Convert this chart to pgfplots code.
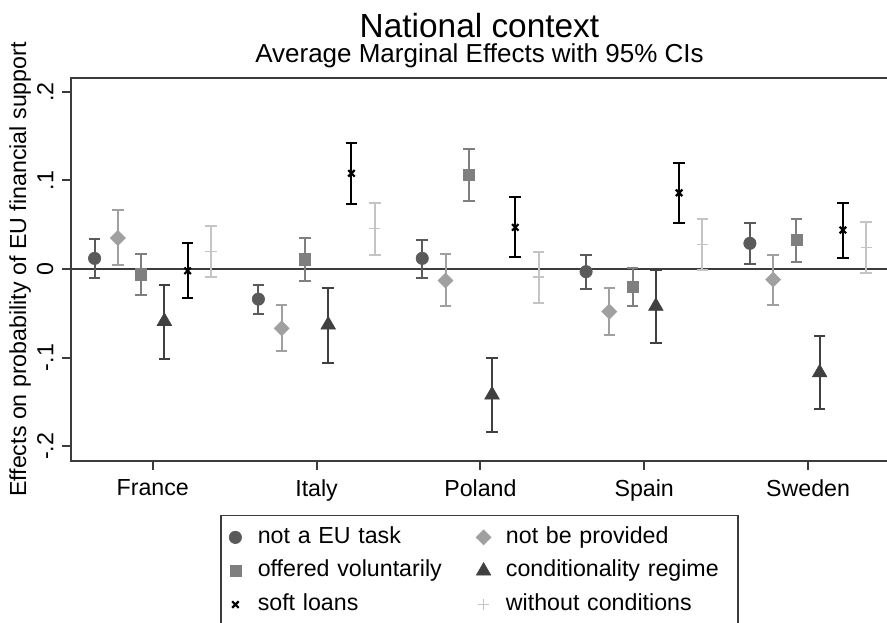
\documentclass[border=0pt]{standalone}
\usepackage{fontspec}
\setmainfont{Liberation Sans}
\usepackage{pgfplots}
\usepackage{pgfplotstable}
\pgfplotsset{compat=1.18}

\definecolor{cTask}{HTML}{5A5A5A}
\definecolor{cProv}{HTML}{A0A0A0}
\definecolor{cVol}{HTML}{7F7F7F}
\definecolor{cCond}{HTML}{404040}
\definecolor{cLoan}{HTML}{000000}
\definecolor{cWith}{HTML}{C4C4C4}
\definecolor{frame}{HTML}{3C3C3C}

% c = country index (0 France ... 4 Sweden), y = AME, lo/hi = 95% CI
\pgfplotstableread{
c y lo hi
0 0.012 -0.010 0.034
1 -0.034 -0.051 -0.018
2 0.012 -0.010 0.033
3 -0.003 -0.023 0.016
4 0.029 0.006 0.052
}\notask
\pgfplotstableread{
c y lo hi
0 0.035 0.005 0.067
1 -0.067 -0.093 -0.041
2 -0.013 -0.042 0.017
3 -0.048 -0.075 -0.021
4 -0.012 -0.041 0.016
}\notprov
\pgfplotstableread{
c y lo hi
0 -0.006 -0.029 0.017
1 0.011 -0.013 0.035
2 0.106 0.077 0.135
3 -0.020 -0.042 0.001
4 0.033 0.008 0.057
}\volun
\pgfplotstableread{
c y lo hi
0 -0.059 -0.102 -0.018
1 -0.063 -0.106 -0.021
2 -0.142 -0.184 -0.101
3 -0.042 -0.084 -0.001
4 -0.117 -0.158 -0.076
}\condreg
\pgfplotstableread{
c y lo hi
0 -0.002 -0.033 0.029
1 0.108 0.073 0.142
2 0.047 0.013 0.081
3 0.086 0.052 0.120
4 0.044 0.012 0.075
}\softloan
\pgfplotstableread{
c y lo hi
0 0.020 -0.009 0.049
1 0.046 0.016 0.075
2 -0.009 -0.038 0.019
3 0.028 -0.001 0.057
4 0.024 -0.005 0.053
}\withoutc

\pgfplotsset{
  ci/.style={
    only marks, line width=1pt,
    error bars/.cd, y dir=both, y explicit,
    error bar style={line width=1pt, #1},
    error mark options={rotate=90, line width=1pt, mark size=2.9pt, #1},
  },
}

\begin{document}
\begin{tikzpicture}
\begin{axis}[
  name=ax,
  scale only axis,
  width=408.5pt, height=191.5pt,
  xmin=-0.499, xmax=4.488,
  ymin=-0.2167, ymax=0.2156,
  xtick={0,1,2,3,4},
  xticklabels={France,Italy,Poland,Spain,Sweden},
  ytick={-0.2,-0.1,0,0.1,0.2},
  yticklabels={-.2,-.1,0,.1,.2},
  xtick pos=bottom, ytick pos=left,
  tick align=outside,
  major tick length=4.3pt,
  tick style={line width=1pt, color=frame},
  axis line style={line width=1pt, color=frame},
  /pgf/number format/assume math mode=true,
  tick label style={font=\fontsize{11.6}{13}\selectfont},
  xticklabel style={yshift=-1.5pt},
  yticklabel style={rotate=90, anchor=south, yshift=1pt},
  ylabel={Effects on probability of EU financial support},
  ylabel style={font=\fontsize{11.6}{13}\selectfont, at={(axis description cs:-0.055,0.5)}, anchor=base, rotate=0},
  legend columns=2,
  legend cell align=left,
  legend image code/.code={%
    \path (0pt,0pt) (13.4pt,0pt);
    \draw[mark repeat=2,mark phase=2,#1] plot coordinates {(0pt,0pt)(6.7pt,0pt)(13.4pt,0pt)};},
  legend style={
    at={(0.5,-0.1402)}, anchor=north,
    draw=frame, line width=0.7pt,
    inner xsep=0pt, inner ysep=2.5pt,
    font=\fontsize{11.6}{13}\selectfont,
    nodes={inner xsep=4pt, inner ysep=3pt, text height=8.5pt, text depth=2.5pt, text width=101.7pt},
    /tikz/column 4/.style={nodes={text width=112pt}},
    row sep=-0.2pt,
  },
  clip=false,
]
\addplot[forget plot, frame, line width=1pt] coordinates {(-0.499,0) (4.488,0)};

\addplot[color=cTask, mark=*, mark size=3.1pt, mark options={line width=0.3pt}, ci=cTask]
  table[x expr=\thisrow{c}-0.355, y=y,
        y error plus expr=\thisrow{hi}-\thisrow{y},
        y error minus expr=\thisrow{y}-\thisrow{lo}] {\notask};
\addlegendentry{not a EU task}

\addplot[color=cProv, mark=square*, mark size=2.65pt, mark options={rotate=45, line width=0.3pt}, ci=cProv]
  table[x expr=\thisrow{c}-0.213, y=y,
        y error plus expr=\thisrow{hi}-\thisrow{y},
        y error minus expr=\thisrow{y}-\thisrow{lo}] {\notprov};
\addlegendentry{not be provided}

\addplot[color=cVol, mark=square*, mark size=2.8pt, mark options={line width=0.3pt}, ci=cVol]
  table[x expr=\thisrow{c}-0.071, y=y,
        y error plus expr=\thisrow{hi}-\thisrow{y},
        y error minus expr=\thisrow{y}-\thisrow{lo}] {\volun};
\addlegendentry{offered voluntarily}

\addplot[color=cCond, mark=triangle*, mark size=4.2pt, mark options={line width=0.3pt}, ci=cCond]
  table[x expr=\thisrow{c}+0.071, y=y,
        y error plus expr=\thisrow{hi}-\thisrow{y},
        y error minus expr=\thisrow{y}-\thisrow{lo}] {\condreg};
\addlegendentry{conditionality regime}

\addplot[color=cLoan, mark=x, mark size=2.3pt, mark options={line width=1.1pt}, ci=cLoan]
  table[x expr=\thisrow{c}+0.213, y=y,
        y error plus expr=\thisrow{hi}-\thisrow{y},
        y error minus expr=\thisrow{y}-\thisrow{lo}] {\softloan};
\addlegendentry{soft loans}

\addplot[color=cWith, mark=+, mark size=2.8pt, mark options={line width=0.6pt}, ci=cWith]
  table[x expr=\thisrow{c}+0.355, y=y,
        y error plus expr=\thisrow{hi}-\thisrow{y},
        y error minus expr=\thisrow{y}-\thisrow{lo}] {\withoutc};
\addlegendentry{without conditions}

\node[font=\fontsize{16.7}{20}\selectfont, anchor=base] at ([yshift=20.5pt]rel axis cs:0.5,1) {National context};
\node[font=\fontsize{13}{15}\selectfont, anchor=base] at ([yshift=7.8pt]rel axis cs:0.5,1) {Average Marginal Effects with 95\% CIs};
\end{axis}
\pgfresetboundingbox
\path ([shift={(-35.5pt,-81pt)}]ax.south west) rectangle ([shift={(-0.5pt,39pt)}]ax.north east);
\end{tikzpicture}
\end{document}
